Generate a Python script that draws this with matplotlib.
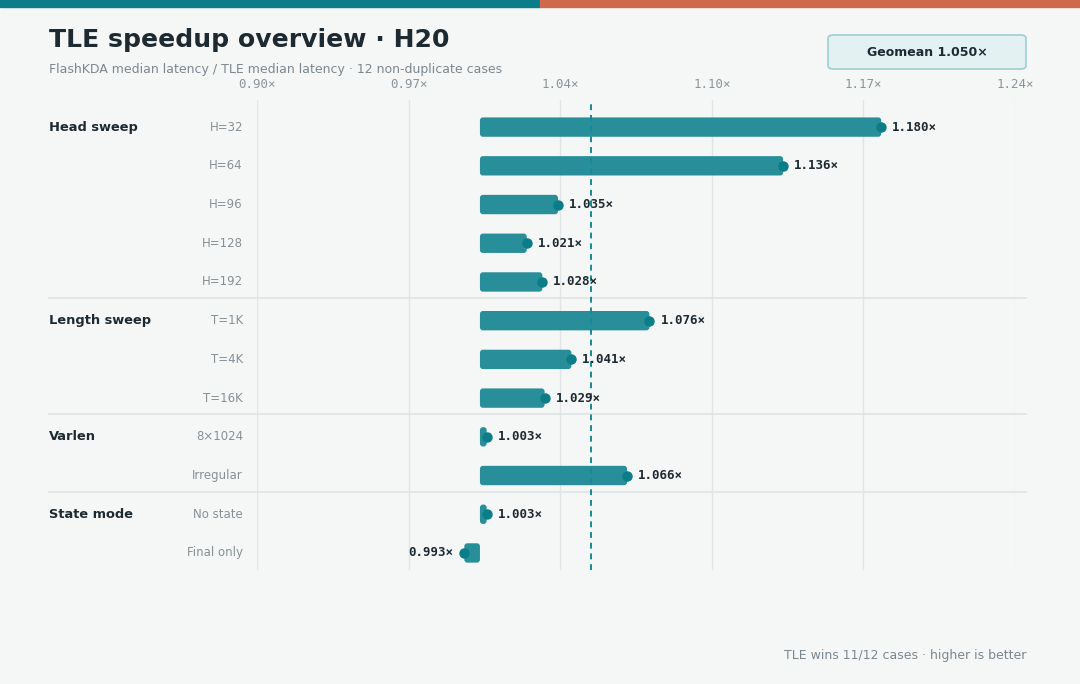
import numpy as np
import matplotlib
matplotlib.use("Agg")
import matplotlib.pyplot as plt
from matplotlib.patches import FancyBboxPatch, Rectangle
from matplotlib.transforms import blended_transform_factory

# data
groups = ["Head sweep", "Length sweep", "Varlen", "State mode"]
group_sizes = [5, 3, 2, 2]
cases = ["H=32", "H=64", "H=96", "H=128", "H=192",
         "T=1K", "T=4K", "T=16K",
         "8×1024", "Irregular",
         "No state", "Final only"]
speedup = [1.180, 1.136, 1.035, 1.021, 1.028,
           1.076, 1.041, 1.029,
           1.003, 1.066,
           1.003, 0.993]
geomean = 1.050
xmin, xmax = 0.90, 1.24

bg = "#f5f7f6"
teal = "#0b7d88"
bar_col = "#218b97"
dark = "#1d2a31"
gray = "#7b878e"

W, H = 1080, 684
fig = plt.figure(figsize=(W / 100, H / 100), dpi=100, facecolor=bg)
ax = fig.add_axes([257 / W, 1 - 570 / H, (1015 - 257) / W, (570 - 100) / H])
ax.set_facecolor(bg)

n = len(cases)
y = np.arange(n)
ax.set_xlim(xmin, xmax)
ax.set_ylim(n - 1 + 0.44, -0.7)

# top colour stripe
fig.patches.append(Rectangle((0, 1 - 7 / H), 0.5, 7 / H, transform=fig.transFigure,
                             color="#0b7d88", zorder=5))
fig.patches.append(Rectangle((0.5, 1 - 7 / H), 0.5, 7 / H, transform=fig.transFigure,
                             color="#cd6a4b", zorder=5))

# grid
ticks = np.linspace(xmin, xmax, 6)
ax.set_xticks(ticks)
ax.set_xticklabels([f"{t:.2f}×" for t in ticks], family="DejaVu Sans Mono",
                   fontsize=9, color="#8a949a")
ax.xaxis.set_ticks_position("top")
ax.tick_params(axis="x", length=0, pad=6.5)
ax.set_yticks([])
for t in ticks:
    ax.axvline(t, color="#e1e5e7", lw=1, zorder=0)
for s in ax.spines.values():
    s.set_visible(False)

# bars
px_x = (xmax - xmin) / 758
px_y = 1 / 38.73
aspect = px_y / px_x
bh = 0.5
for yi, v in zip(y, speedup):
    left = min(1.0, v)
    w = abs(v - 1.0)
    p = FancyBboxPatch((left, yi - bh / 2), w, bh,
                       boxstyle=f"round,pad=0,rounding_size={min(3 * px_x, w / 2)}",
                       mutation_aspect=aspect, fc=bar_col, ec="none", alpha=0.97, zorder=2)
    ax.add_patch(p)
    ax.plot(v, yi, "o", color=teal, ms=6.5, zorder=3)
    if v >= 1:
        ax.text(v + 11 * px_x, yi, f"{v:.3f}×", ha="left", va="center",
                family="DejaVu Sans Mono", fontweight="bold", fontsize=9, color=dark, zorder=4)
    else:
        ax.text(v - 11 * px_x, yi, f"{v:.3f}×", ha="right", va="center",
                family="DejaVu Sans Mono", fontweight="bold", fontsize=9, color=dark, zorder=4)

ax.axvline(geomean, color="#178896", lw=1.4, ls=(0, (3, 2.5)), zorder=3)

# row / group labels
tr = blended_transform_factory(fig.transFigure, ax.transData)
for yi, c in zip(y, cases):
    ax.text(243 / W, yi, c, transform=tr, ha="right", va="center", fontsize=8.5,
            color="#859096")
start = 0
for g, size in zip(groups, group_sizes):
    ax.text(49 / W, start, g, transform=tr, ha="left", va="center", fontsize=9.4,
            fontweight="bold", color=dark)
    if start > 0:
        ax.plot([49 / W, 1026 / W], [start - 0.58, start - 0.58], transform=tr,
                color="#dfe3e5", lw=1.2, clip_on=False, zorder=1)
    start += size

# titles
fig.text(49 / W, 1 - 40 / H, "TLE speedup overview · H20", fontsize=18.1,
         fontweight="bold", color=dark, va="center", ha="left")
fig.text(49 / W, 1 - 69 / H, "FlashKDA median latency / TLE median latency · 12 non-duplicate cases",
         fontsize=9, color=gray, va="center", ha="left")

# geomean box
box = FancyBboxPatch((828 / W, 1 - 69 / H), (1026 - 828) / W, 34 / H,
                     boxstyle="round,pad=0,rounding_size=0.005", transform=fig.transFigure,
                     fc="#e3f1f2", ec="#9fcdd1", lw=1.2)
fig.patches.append(box)
fig.text(927 / W, 1 - 52 / H, f"Geomean {geomean:.3f}×", fontsize=9, fontweight="bold",
         color=dark, ha="center", va="center")

fig.text(1026 / W, 1 - 656 / H, "TLE wins 11/12 cases · higher is better", fontsize=9,
         color=gray, ha="right", va="center")

fig.savefig("out.png", dpi=100, facecolor=bg)
